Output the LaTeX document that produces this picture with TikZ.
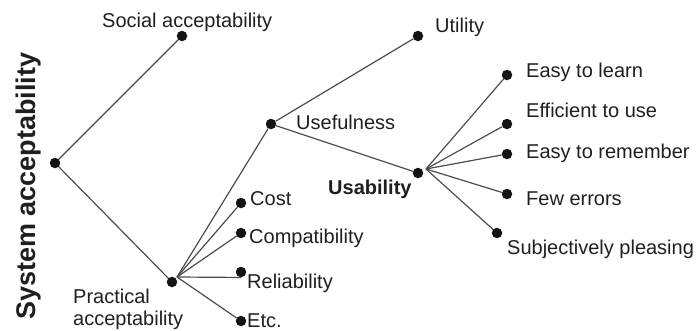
\documentclass[tikz,border=0pt]{standalone}
\usepackage{fontspec}
\setmainfont{Liberation Sans}
\begin{document}
\begin{tikzpicture}[x=1pt,y=-1pt,
  dot/.style={circle,fill=black!92,inner sep=0pt,minimum size=10.5pt},
  lbl/.style={inner sep=0pt,anchor=base west,text=black!88,font=\fontsize{20}{24}\selectfont},
  boldlbl/.style={lbl,font=\fontsize{20}{24}\selectfont\bfseries},
  conn/.style={draw=black!70,line width=1.2pt}]
\useasboundingbox (0,0) rectangle (699,330);
% dots
\node[dot] (root) at (55,163) {};
\node[dot] (soc) at (182,36) {};
\node[dot] (usef) at (271,124) {};
\node[dot] (util) at (418,36) {};
\node[dot] (usab) at (418,173) {};
\node[dot] (l1) at (507,75) {};
\node[dot] (l2) at (507,124) {};
\node[dot] (l3) at (507,154) {};
\node[dot] (l4) at (507,194) {};
\node[dot] (l5) at (497,233) {};
\node[dot] (prac) at (172,282) {};
\node[dot] (cost) at (241,203) {};
\node[dot] (comp) at (241,233) {};
\node[dot] (rel) at (241,272) {};
\node[dot] (etc) at (241,321) {};
\coordinate (pah) at (177,277);
\coordinate (uah) at (426,169);
% connectors
\draw[conn] (root) -- (soc);
\draw[conn] (root) -- (prac);
\draw[conn] (pah) -- (usef);
\draw[conn] (pah) -- (cost);
\draw[conn] (pah) -- (comp);
\draw[conn] (pah) -- (rel.south);
\draw[conn] (pah) -- (etc);
\draw[conn] (usef) -- (util);
\draw[conn] (usef) -- (usab);
\draw[conn] (uah) -- (l1);
\draw[conn] (uah) -- (l2);
\draw[conn] (uah) -- (l3);
\draw[conn] (uah) -- (l4);
\draw[conn] (uah) -- (l5);
% labels
\node[lbl] (tsoc) at (102,27) {Social acceptability};
\node[lbl] (tutil) at (435,32) {Utility};
\node[lbl] (tusef) at (296,129) {Usefulness};
\node[lbl] (tl1) at (526,77) {Easy to learn};
\node[lbl] (tl2) at (526,117) {Efficient to use};
\node[lbl] (tl3) at (526,158) {Easy to remember};
\node[lbl] (tl4) at (526,205) {Few errors};
\node[lbl] (tl5) at (507,254) {Subjectively pleasing};
\node[boldlbl] (tusab) at (328,194) {Usability};
\node[lbl] (tcost) at (250,205) {Cost};
\node[lbl] (tcomp) at (249,243) {Compatibility};
\node[lbl] (trel) at (247,288) {Reliability};
\node[lbl] (tetc) at (247,327) {Etc.};
\node[lbl] (tprac1) at (73,303) {Practical};
\node[lbl] (tprac2) at (73,325.5) {acceptability};
\node[lbl,font=\fontsize{27}{32}\selectfont\bfseries,rotate=90] (tsys) at (35,320) {System acceptability};
\end{tikzpicture}
\end{document}
